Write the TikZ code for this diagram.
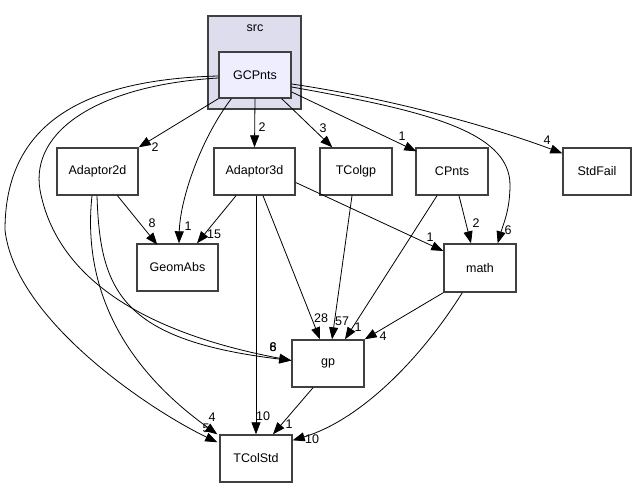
\documentclass[tikz,border=0pt]{standalone}
\usepackage{fontspec}
\setmainfont{Liberation Sans}
\usetikzlibrary{arrows.meta,calc}
\definecolor{clfill}{HTML}{DDDDEE}
\definecolor{gcfill}{HTML}{EEEEFF}
\definecolor{bord}{HTML}{404040}
\begin{document}
\begin{tikzpicture}[x=1pt,y=-1pt,
  box/.style={draw=bord,line width=1.4pt,fill=white,inner sep=0pt,font=\fontsize{12.5}{14}\selectfont},
  cluster/.style={draw=bord,line width=1.4pt,fill=clfill,inner sep=0pt},
  edge/.style={draw=black,line width=0.8pt,-{Triangle[length=12pt,width=9pt]}},
  lbl/.style={inner sep=0pt,font=\fontsize{12.5}{14}\selectfont}]
\useasboundingbox (0,0) rectangle (640,489);
\fill[white] (0,0) rectangle (640,489);
% cluster
\node[cluster,minimum width=93pt,minimum height=93pt] (src) at (254.5,62.5) {};
\node[lbl] (srclbl) at (255,28) {src};
% nodes
\node[box,fill=gcfill,minimum width=72pt,minimum height=46pt] (G) at (255,75) {GCPnts};
\node[box,minimum width=81pt,minimum height=47pt] (A2) at (97.5,171.5) {Adaptor2d};
\node[box,minimum width=81pt,minimum height=47pt] (A3) at (254.5,171.5) {Adaptor3d};
\node[box,minimum width=72pt,minimum height=47pt] (TG) at (356,171.5) {TColgp};
\node[box,minimum width=72pt,minimum height=47pt] (CP) at (452,171.5) {CPnts};
\node[box,minimum width=68pt,minimum height=47pt] (SF) at (597,171.5) {StdFail};
\node[box,minimum width=81pt,minimum height=47pt] (GA) at (177.5,267.5) {GeomAbs};
\node[box,minimum width=72pt,minimum height=48pt] (M) at (480,268) {math};
\node[box,minimum width=72pt,minimum height=47pt] (GP) at (328,363.5) {gp};
\node[box,minimum width=72pt,minimum height=47pt] (TC) at (256,458.5) {TColStd};
% edges from GCPnts
\draw[edge] (G.south west) -- (A2.north east);
\node[lbl] (l1) at (155,147) {2};
\draw[edge] (G.south) -- (A3.north);
\node[lbl] (l2) at (262,127) {2};
\draw[edge] ($(G.south east)+(-10,0)$) -- ($(TG.north west)+(13,0)$);
\node[lbl] (l3) at (323,128) {3};
\draw[edge] ($(G.east)+(0,17)$) -- ($(CP.north west)+(1,4)$);
\node[lbl] (l4) at (402,136) {1};
\draw[edge] ($(G.east)+(0,9)$) .. controls (400,100) and (500,130) .. ($(SF.north west)+(0,6)$);
\node[lbl] (l5) at (547,140) {4};
\draw[edge] ($(G.east)+(0,12)$) .. controls (420,110) and (510,130) .. (510,185) .. controls (510,210) and (503,225) .. ($(M.north east)+(-19,0)$);
\node[lbl] (l6) at (508,230) {6};
\draw[edge] ($(G.south west)+(13,0)$) .. controls (200,140) and (180,200) .. ($(GA.north)+(1.5,0)$);
\node[lbl] (l7) at (188,226) {1};
\draw[edge] ($(G.west)+(0,3)$) .. controls (100,85) and (30,130) .. (40,190) .. controls (55,270) and (130,330) .. ($(GP.west)+(0,-3)$);
\draw[edge] ($(G.west)+(0,1)$) .. controls (60,80) and (5,140) .. (5,230) .. controls (15,320) and (150,410) .. ($(TC.north west)+(-2,8)$);
\node[lbl] (l8) at (206,428) {5};
% Adaptor2d
\draw[edge] ($(A2.south)+(20,0)$) -- ($(GA.south west)+(21,-47)$);
\node[lbl] (l9) at (152,223) {8};
\draw[edge] ($(A2.south)+(-5.5,0)$) .. controls (85,260) and (100,350) .. ($(TC.north west)+(-2,0)$);
\node[lbl] (l10) at (212,417) {4};
\draw[edge] ($(A2.south)+(-0.5,0)$) .. controls (100,290) and (120,340) .. ($(GP.west)+(0,-3)$);
\node[lbl] (l11) at (273,347) {8};
\node[lbl] (l12) at (273,347) {6};
% Adaptor3d
\draw[edge] ($(A3.south)+(-18.5,0)$) -- ($(GA.north)+(19.5,0)$);
\node[lbl] (l13) at (214,234) {15};
\draw[edge] ($(A3.south)+(1.5,0)$) -- (TC.north);
\node[lbl] (l14) at (263,416) {10};
\draw[edge] ($(A3.south)+(8.5,0)$) -- ($(GP.north)+(-8,0)$);
\node[lbl] (l15) at (321,318) {28};
\draw[edge] ($(A3.east)+(0,11)$) -- ($(M.west)+(0,-17)$);
\node[lbl] (l16) at (430,237) {1};
% TColgp, CPnts
\draw[edge] ($(TG.south)+(-4,0)$) -- ($(GP.north)+(4,0)$);
\node[lbl] (l17) at (342,321) {57};
\draw[edge] ($(CP.south)+(-15,0)$) -- ($(GP.north)+(17,0)$);
\node[lbl] (l18) at (358,327) {1};
\draw[edge] ($(CP.south)+(7,0)$) -- ($(M.north)+(-9,0)$);
\node[lbl] (l19) at (476,223) {2};
% math
\draw[edge] (M.south west) -- (GP.north east);
\node[lbl] (l20) at (383,336) {4};
\draw[edge] ($(M.south west)+(19,0)$) .. controls (420,360) and (360,420) .. ($(TC.north east)+(0,6)$);
\node[lbl] (l21) at (312,439) {10};
% gp
\draw[edge] ($(GP.south)+(-15,0)$) -- ($(TC.north)+(17,0)$);
\node[lbl] (l22) at (289,424) {1};
\end{tikzpicture}
\end{document}
